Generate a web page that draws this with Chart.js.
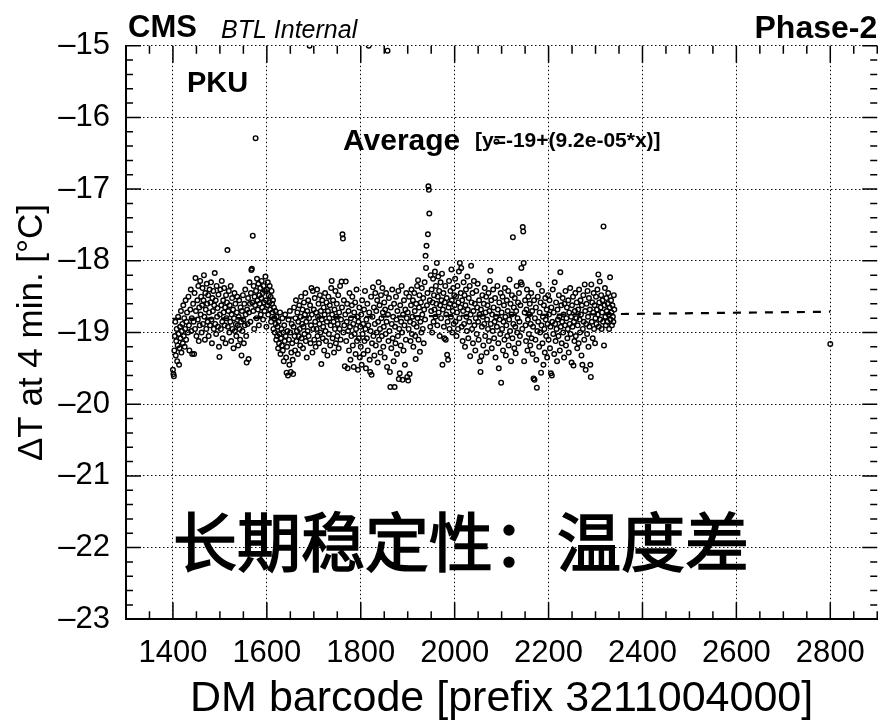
<!DOCTYPE html>
<html>
<head>
<meta charset="utf-8">
<title>BTL long-term stability: ΔT at 4 min.</title>
<script src="https://cdn.jsdelivr.net/npm/chart.js@4.4.0/dist/chart.umd.min.js"></script>
<style>
  html, body { margin: 0; padding: 0; background: #fff; }
</style>
</head>
<body>
<canvas id="chart" width="881" height="721"></canvas>
<script>
// ── Axes ──────────────────────────────────────────────────────────────────────
const xRange = [1300, 2900];
const yRange = [-23, -15];
const xTicks = [1400, 1600, 1800, 2000, 2200, 2400, 2600, 2800];
const yTicks = [-23, -22, -21, -20, -19, -18, -17, -16, -15];

// ── Measurements: [DM barcode, ΔT at 4 min.] ─────────────────────────────────
const dm1400 = [
  [1400,-19.52],[1401,-19.58],[1402,-19.61],[1403,-19.25],[1404,-19.05],[1405,-18.85],[1406,-19.32],[1407,-19.12],
  [1408,-18.95],[1409,-19.40],[1410,-19.18],[1411,-18.78],[1412,-19.02],[1413,-19.45],[1414,-19.22],[1415,-18.92],
  [1416,-19.08],[1417,-18.70],[1418,-19.28],[1419,-18.98],[1420,-18.88],[1421,-19.15],[1422,-18.62],[1423,-19.05],
  [1424,-18.80],[1425,-19.20],[1426,-18.95],[1427,-18.55],[1428,-19.10],[1429,-18.85],[1430,-18.72],[1432,-19.00],
  [1433,-18.50],[1434,-18.90],[1435,-19.25],[1437,-18.68],[1438,-18.40],[1439,-18.98],[1440,-18.80],[1441,-19.30],
  [1443,-18.60],[1444,-18.85],[1445,-19.30],[1446,-18.45],[1447,-18.95],[1448,-18.24],[1449,-18.70],[1450,-19.05],
  [1452,-18.55],[1453,-18.82],[1454,-18.35],[1455,-19.12],[1456,-18.65],[1457,-18.90],[1458,-18.28],[1459,-18.75],
  [1460,-18.50],[1461,-19.00],[1462,-18.62],[1463,-18.38],[1464,-18.88],[1465,-18.55],[1466,-18.20],[1467,-18.78],
  [1468,-19.10],[1469,-18.45],[1470,-18.68],[1471,-18.95],[1472,-18.32],[1473,-18.60],[1474,-18.85],[1475,-18.48],
  [1476,-19.05],[1477,-18.72],[1478,-18.40],[1479,-18.90],[1480,-18.58],[1481,-18.30],[1482,-18.82],[1483,-19.15],
  [1484,-18.52],[1485,-18.70],[1486,-18.42],[1487,-18.95],[1488,-18.62],[1489,-18.17],[1490,-18.88],[1491,-18.55],
  [1492,-19.02],[1493,-18.35],[1494,-18.78],[1495,-18.66],[1496,-18.92],[1497,-18.47],[1498,-19.20],[1499,-19.34]
];
const dm1500 = [
  [1500,-18.75],[1501,-18.40],[1502,-18.95],[1503,-18.62],[1504,-18.28],[1505,-18.85],[1506,-19.08],[1507,-18.55],
  [1508,-18.72],[1509,-18.38],[1510,-18.90],[1511,-18.65],[1512,-19.15],[1513,-18.48],[1514,-18.80],[1515,-18.58],
  [1516,-17.85],[1517,-18.92],[1518,-18.70],[1519,-18.42],[1520,-19.00],[1521,-18.62],[1522,-18.85],[1523,-18.35],
  [1524,-19.12],[1525,-18.75],[1526,-18.52],[1527,-18.95],[1528,-18.68],[1529,-19.22],[1530,-18.80],[1531,-18.45],
  [1532,-18.98],[1533,-18.60],[1534,-18.88],[1535,-19.05],[1536,-18.72],[1537,-18.50],[1538,-18.90],[1539,-19.18],
  [1540,-18.78],[1541,-18.55],[1542,-18.95],[1543,-19.10],[1544,-18.65],[1545,-18.85],[1546,-19.32],[1547,-18.70],
  [1548,-18.98],[1549,-18.48],[1550,-18.82],[1551,-19.15],[1552,-18.60],[1553,-18.90],[1554,-18.40],[1555,-18.75],
  [1556,-19.05],[1557,-19.42],[1558,-18.68],[1559,-18.88],[1560,-18.52],[1561,-19.37],[1562,-18.72],[1563,-18.30],
  [1564,-18.60],[1565,-18.85],[1566,-18.45],[1567,-18.13],[1568,-18.11],[1569,-18.58],[1570,-17.65],[1571,-18.70],
  [1572,-18.35],[1573,-18.95],[1574,-18.50],[1575,-18.62],[1576,-16.29],[1577,-18.42],[1578,-18.80],[1579,-18.25],
  [1580,-18.55],[1581,-18.68],[1582,-18.32],[1583,-18.90],[1584,-18.48],[1585,-18.60],[1586,-18.38],[1587,-18.75],
  [1588,-18.52],[1589,-18.28],[1590,-18.65],[1591,-18.45],[1592,-18.82],[1593,-18.35],[1594,-18.58],[1595,-18.70],
  [1596,-18.42],[1597,-18.22],[1598,-18.55],[1599,-18.92]
];
const dm1600 = [
  [1600,-18.40],[1601,-18.62],[1602,-18.30],[1603,-18.75],[1604,-18.48],[1605,-18.58],[1606,-18.35],[1607,-18.68],
  [1608,-18.50],[1609,-18.85],[1610,-18.42],[1611,-18.60],[1612,-18.72],[1613,-18.55],[1614,-18.95],[1615,-18.65],
  [1616,-18.80],[1617,-19.00],[1618,-18.70],[1619,-18.88],[1620,-19.10],[1621,-18.78],[1622,-19.05],[1623,-18.92],
  [1624,-19.22],[1625,-18.85],[1626,-19.15],[1627,-19.02],[1628,-18.72],[1629,-19.30],[1630,-19.08],[1631,-18.95],
  [1632,-19.18],[1633,-18.80],[1634,-19.25],[1635,-19.00],[1636,-19.40],[1637,-18.90],[1638,-19.12],[1639,-18.75],
  [1640,-19.05],[1641,-19.35],[1642,-19.56],[1643,-19.20],[1644,-18.98],[1645,-19.60],[1646,-18.82],[1647,-19.10],
  [1648,-19.45],[1649,-18.70],[1650,-19.00],[1651,-19.55],[1652,-19.28],[1653,-18.88],[1654,-19.15],[1655,-19.38],
  [1656,-19.58],[1657,-18.92],[1658,-18.65],[1659,-19.05],[1660,-19.25],[1661,-18.80],[1662,-18.55],[1663,-19.12],
  [1664,-18.98],[1665,-18.72],[1666,-19.30],[1667,-18.85],[1668,-19.05],[1669,-18.62],[1670,-18.95],[1671,-19.18],
  [1672,-18.78],[1673,-18.50],[1674,-19.08],[1675,-18.88],[1676,-18.68],[1677,-19.22],[1678,-18.92],[1679,-18.58],
  [1680,-19.02],[1681,-18.75],[1682,-18.45],[1683,-19.12],[1684,-18.85],[1685,-19.35],[1686,-18.70],[1687,-18.98],
  [1688,-18.55],[1689,-19.05],[1690,-18.80],[1691,-15.00],[1692,-18.62],[1693,-19.15],[1694,-18.90],[1695,-18.38],
  [1696,-18.75],[1697,-19.28],[1698,-18.42],[1699,-18.95]
];
const dm1700 = [
  [1700,-18.68],[1701,-19.10],[1702,-18.52],[1703,-18.85],[1704,-19.20],[1705,-18.72],[1706,-18.95],[1707,-18.40],
  [1708,-19.05],[1709,-18.78],[1710,-18.60],[1711,-19.15],[1712,-18.88],[1713,-18.48],[1714,-19.00],[1715,-18.70],
  [1716,-19.44],[1717,-18.82],[1718,-18.55],[1719,-19.08],[1720,-18.92],[1721,-18.65],[1722,-19.25],[1723,-18.75],
  [1724,-18.45],[1725,-18.98],[1726,-19.12],[1727,-18.58],[1728,-18.85],[1729,-19.32],[1730,-18.70],[1731,-18.50],
  [1732,-19.02],[1733,-18.80],[1734,-18.62],[1735,-19.18],[1736,-18.90],[1737,-18.38],[1738,-18.28],[1739,-18.75],
  [1740,-19.08],[1741,-18.55],[1742,-18.85],[1743,-19.28],[1744,-18.68],[1745,-18.95],[1746,-18.42],[1747,-19.15],
  [1748,-18.78],[1749,-18.60],[1750,-19.05],[1751,-18.88],[1752,-18.48],[1753,-19.22],[1754,-18.72],[1755,-18.95],
  [1756,-18.35],[1757,-19.10],[1758,-18.82],[1759,-18.29],[1760,-18.65],[1761,-17.63],[1762,-17.69],[1763,-19.00],
  [1764,-18.55],[1765,-18.90],[1766,-19.47],[1767,-18.75],[1768,-18.29],[1769,-19.12],[1770,-18.85],[1771,-18.60],
  [1772,-19.50],[1773,-18.98],[1774,-18.70],[1775,-19.25],[1776,-18.45],[1777,-18.92],[1778,-19.38],[1779,-18.80],
  [1780,-19.05],[1781,-18.62],[1782,-18.50],[1783,-19.18],[1784,-18.88],[1785,-19.48],[1786,-18.72],[1787,-19.02],
  [1788,-18.58],[1789,-19.30],[1790,-18.95],[1791,-18.40],[1792,-19.12],[1793,-18.78],[1794,-19.52],[1795,-18.85],
  [1796,-19.08],[1797,-18.65],[1798,-19.35],[1799,-18.92]
];
const dm1800 = [
  [1800,-19.20],[1801,-18.75],[1802,-19.45],[1803,-18.55],[1804,-19.02],[1805,-18.88],[1806,-19.30],[1807,-18.68],
  [1808,-19.12],[1809,-18.42],[1810,-18.95],[1811,-19.50],[1812,-18.82],[1813,-19.08],[1814,-18.60],[1815,-19.25],
  [1816,-18.90],[1817,-15.00],[1818,-18.72],[1819,-19.38],[1820,-19.55],[1821,-18.98],[1822,-18.50],[1823,-19.59],
  [1824,-19.15],[1825,-18.78],[1826,-18.37],[1827,-19.05],[1828,-18.65],[1829,-19.32],[1830,-18.88],[1831,-18.45],
  [1832,-19.18],[1833,-18.70],[1834,-19.00],[1835,-18.55],[1836,-19.42],[1837,-18.85],[1838,-18.30],[1839,-19.10],
  [1840,-18.62],[1841,-18.95],[1842,-19.28],[1843,-18.48],[1844,-18.80],[1845,-19.05],[1846,-18.38],[1847,-18.72],
  [1848,-19.20],[1849,-18.92],[1850,-18.58],[1851,-19.35],[1852,-18.68],[1853,-19.02],[1854,-18.45],[1855,-18.85],
  [1856,-19.48],[1857,-15.07],[1858,-18.75],[1859,-19.12],[1860,-18.52],[1861,-18.98],[1862,-19.55],[1863,-19.76],
  [1864,-18.65],[1865,-19.22],[1866,-18.88],[1867,-18.40],[1868,-19.08],[1869,-18.78],[1870,-19.40],[1871,-18.60],
  [1872,-19.76],[1873,-18.92],[1874,-19.15],[1875,-18.50],[1876,-18.82],[1877,-19.30],[1878,-18.70],[1879,-19.05],
  [1880,-18.42],[1881,-19.65],[1882,-18.95],[1883,-19.57],[1884,-18.62],[1885,-19.18],[1886,-18.85],[1887,-18.35],
  [1888,-19.00],[1889,-19.66],[1890,-18.75],[1891,-19.25],[1892,-18.55],[1893,-18.90],[1894,-19.45],[1895,-18.68],
  [1896,-19.10],[1897,-18.45],[1898,-18.80],[1899,-19.62]
];
const dm1900 = [
  [1900,-18.72],[1901,-19.67],[1902,-18.95],[1903,-18.50],[1904,-19.58],[1905,-18.85],[1906,-19.12],[1907,-18.62],
  [1908,-18.40],[1909,-19.02],[1910,-18.78],[1911,-18.55],[1912,-19.20],[1913,-18.88],[1914,-18.45],[1915,-18.70],
  [1916,-19.05],[1917,-19.37],[1918,-18.60],[1919,-18.92],[1920,-18.35],[1921,-18.80],[1922,-18.27],[1923,-19.10],
  [1924,-18.65],[1925,-18.48],[1926,-19.27],[1927,-18.85],[1928,-18.58],[1929,-19.00],[1930,-18.38],[1931,-18.75],
  [1932,-18.95],[1933,-18.52],[1934,-19.15],[1935,-18.68],[1936,-18.30],[1937,-18.82],[1938,-17.93],[1939,-18.10],
  [1940,-17.79],[1941,-18.62],[1942,-18.45],[1943,-17.63],[1944,-16.96],[1945,-17.01],[1946,-17.34],[1947,-18.55],
  [1948,-18.92],[1949,-18.20],[1950,-18.70],[1951,-18.40],[1952,-19.00],[1953,-18.58],[1954,-18.25],[1955,-18.85],
  [1956,-18.48],[1957,-18.68],[1958,-18.15],[1959,-18.78],[1960,-18.35],[1961,-18.60],[1962,-18.03],[1963,-18.90],
  [1964,-18.50],[1965,-18.22],[1966,-18.72],[1967,-18.42],[1968,-19.05],[1969,-18.62],[1970,-18.30],[1971,-18.80],
  [1972,-18.55],[1973,-18.18],[1974,-19.45],[1975,-18.68],[1976,-18.45],[1977,-18.92],[1978,-19.08],[1979,-18.58],
  [1980,-18.35],[1981,-19.10],[1982,-18.75],[1983,-18.52],[1984,-19.31],[1985,-18.85],[1986,-19.38],[1987,-18.65],
  [1988,-18.28],[1989,-18.95],[1990,-18.60],[1991,-18.42],[1992,-18.78],[1993,-18.12],[1994,-18.55],[1995,-19.00],
  [1996,-18.70],[1997,-18.38],[1998,-18.88],[1999,-18.48]
];
const dm2000 = [
  [2000,-18.62],[2001,-18.25],[2002,-18.85],[2003,-18.50],[2004,-19.05],[2005,-18.72],[2006,-18.35],[2007,-18.95],
  [2008,-18.58],[2009,-18.15],[2010,-18.80],[2011,-18.03],[2012,-18.65],[2013,-18.45],[2014,-18.10],[2015,-18.92],
  [2016,-18.55],[2017,-19.12],[2018,-18.70],[2019,-18.30],[2020,-18.88],[2021,-18.48],[2022,-19.20],[2023,-18.62],
  [2024,-18.40],[2025,-18.78],[2026,-18.98],[2027,-18.22],[2028,-18.68],[2029,-19.08],[2030,-18.52],[2031,-18.85],
  [2032,-18.35],[2033,-19.33],[2034,-18.75],[2035,-18.07],[2036,-18.58],[2037,-18.95],[2038,-18.45],[2039,-19.15],
  [2040,-18.70],[2041,-18.28],[2042,-18.90],[2043,-18.60],[2044,-19.25],[2045,-18.80],[2046,-18.42],[2047,-19.02],
  [2048,-18.65],[2049,-18.32],[2050,-18.85],[2051,-19.10],[2052,-18.55],[2053,-18.75],[2054,-19.40],[2055,-19.55],
  [2056,-18.68],[2057,-19.33],[2058,-18.92],[2059,-18.48],[2060,-18.78],[2061,-19.18],[2062,-18.60],[2063,-18.88],
  [2064,-18.38],[2065,-19.05],[2066,-18.72],[2067,-18.50],[2068,-19.28],[2069,-18.82],[2070,-18.62],[2071,-18.95],
  [2072,-18.45],[2073,-19.12],[2074,-18.70],[2075,-18.28],[2076,-18.14],[2077,-18.88],[2078,-18.55],[2079,-19.22],
  [2080,-18.75],[2081,-18.98],[2082,-18.40],[2083,-18.65],[2084,-19.08],[2085,-18.85],[2086,-18.52],[2087,-19.35],
  [2088,-18.78],[2089,-16.34],[2090,-18.92],[2091,-18.35],[2092,-18.68],[2093,-19.15],[2094,-19.50],[2095,-18.58],
  [2096,-18.82],[2097,-19.02],[2098,-18.45],[2099,-19.70]
];
const dm2100 = [
  [2100,-18.72],[2101,-18.95],[2102,-18.50],[2103,-19.25],[2104,-18.85],[2105,-18.62],[2106,-19.10],[2107,-18.38],
  [2108,-18.78],[2109,-19.32],[2110,-18.90],[2111,-18.55],[2112,-19.05],[2113,-18.70],[2114,-18.42],[2115,-19.18],
  [2116,-18.82],[2117,-18.26],[2118,-18.98],[2119,-18.60],[2120,-19.40],[2121,-18.75],[2122,-18.48],[2123,-19.08],
  [2124,-17.67],[2125,-18.88],[2126,-18.65],[2127,-19.22],[2128,-18.52],[2129,-18.92],[2130,-19.29],[2131,-18.70],
  [2132,-18.35],[2133,-19.00],[2134,-18.80],[2135,-18.58],[2136,-19.15],[2137,-18.45],[2138,-18.85],[2139,-19.05],
  [2140,-18.62],[2141,-18.30],[2142,-18.10],[2143,-18.33],[2144,-18.95],[2145,-17.53],[2146,-17.59],[2147,-18.03],
  [2148,-19.40],[2149,-18.72],[2150,-18.55],[2151,-18.90],[2152,-19.12],[2153,-18.68],[2154,-18.40],[2155,-19.25],
  [2156,-18.82],[2157,-18.50],[2158,-19.02],[2159,-18.75],[2160,-18.60],[2161,-19.18],[2162,-18.88],[2163,-18.45],
  [2164,-19.08],[2165,-18.70],[2166,-19.30],[2167,-18.92],[2168,-19.64],[2169,-18.55],[2170,-19.66],[2171,-18.80],
  [2172,-19.10],[2173,-18.65],[2174,-19.38],[2175,-19.77],[2176,-18.98],[2177,-18.50],[2178,-18.85],[2179,-18.33],
  [2180,-19.20],[2181,-18.72],[2182,-19.00],[2183,-18.58],[2184,-19.56],[2185,-18.90],[2186,-18.42],[2187,-19.15],
  [2188,-18.78],[2189,-19.45],[2190,-18.62],[2191,-18.95],[2192,-19.28],[2193,-18.52],[2194,-18.82],[2195,-19.05],
  [2196,-18.68],[2197,-19.35],[2198,-18.88],[2199,-18.48]
];
const dm2200 = [
  [2200,-19.10],[2201,-18.75],[2202,-18.55],[2203,-19.22],[2204,-18.92],[2205,-19.57],[2206,-18.65],[2207,-19.60],
  [2208,-18.85],[2209,-18.40],[2210,-19.02],[2211,-18.72],[2212,-19.30],[2213,-18.30],[2214,-18.88],[2215,-19.12],
  [2216,-18.58],[2217,-18.95],[2218,-19.40],[2219,-18.68],[2220,-18.82],[2221,-19.05],[2222,-18.48],[2223,-18.78],
  [2224,-19.25],[2225,-18.16],[2226,-18.92],[2227,-18.62],[2228,-19.15],[2229,-18.85],[2230,-18.52],[2231,-19.00],
  [2232,-18.75],[2233,-19.35],[2234,-18.60],[2235,-18.90],[2236,-18.42],[2237,-19.18],[2238,-18.80],[2239,-18.65],
  [2240,-19.08],[2241,-18.95],[2242,-18.55],[2243,-19.28],[2244,-18.72],[2245,-18.88],[2246,-18.38],[2247,-19.02],
  [2248,-18.78],[2249,-19.42],[2250,-18.62],[2251,-18.92],[2252,-18.50],[2253,-19.46],[2254,-18.85],[2255,-19.12],
  [2256,-18.70],[2257,-18.45],[2258,-19.05],[2259,-18.80],[2260,-18.58],[2261,-19.22],[2262,-18.90],[2263,-18.68],
  [2264,-19.15],[2265,-18.40],[2266,-18.82],[2267,-19.00],[2268,-18.55],[2269,-18.75],[2270,-19.32],[2271,-18.62],
  [2272,-19.45],[2273,-18.95],[2274,-18.48],[2275,-18.85],[2276,-19.10],[2277,-18.33],[2278,-18.70],[2279,-19.52],
  [2280,-18.88],[2281,-18.60],[2282,-19.02],[2283,-18.42],[2284,-18.78],[2285,-19.20],[2286,-18.52],[2287,-18.92],
  [2288,-18.68],[2289,-19.45],[2290,-19.62],[2291,-18.33],[2292,-18.85],[2293,-18.58],[2294,-19.08],[2295,-18.72],
  [2296,-18.45],[2297,-18.95],[2298,-18.62],[2299,-19.15]
];
const dm2300 = [
  [2300,-18.80],[2301,-18.50],[2302,-18.88],[2303,-18.68],[2304,-18.40],[2305,-18.75],[2306,-18.19],[2307,-18.92],
  [2308,-18.58],[2309,-18.29],[2310,-18.82],[2311,-18.65],[2312,-18.48],[2313,-18.95],[2314,-18.72],[2315,-18.55],
  [2316,-18.85],[2317,-17.52],[2318,-19.18],[2319,-18.62],[2320,-18.38],[2321,-18.78],[2322,-18.90],[2323,-18.52],
  [2324,-18.70],[2325,-18.85],[2326,-18.60],[2327,-18.45],[2328,-18.75],[2329,-18.95],[2330,-18.65],[2331,-18.23],
  [2332,-18.82],[2333,-18.55],[2334,-18.72],[2335,-18.90],[2336,-18.62],[2337,-18.78],[2338,-18.85],[2339,-18.48],
  [2340,-18.68]
];
const dmLate = [[2800,-19.16]];

// ── Average fit (dashed) ──────────────────────────────────────────────────────
const fitX = [1400, 2800];
const fitY = [-18.81, -18.71];

// ── Chart ─────────────────────────────────────────────────────────────────────
const FONT = '"Liberation Sans", Arial, Helvetica, sans-serif';
Chart.defaults.font.family = FONT;
Chart.defaults.color = '#000';

const points = [...dm1400, ...dm1500, ...dm1600, ...dm1700, ...dm1800, ...dm1900,
                ...dm2000, ...dm2100, ...dm2200, ...dm2300, ...dmLate].map(([x, y]) => ({ x, y }));
const fitLine = fitX.map((x, i) => ({ x, y: fitY[i] }));

const rootMinus = v => (v < 0 ? '\u2013' + Math.abs(v) : String(v));

// ROOT style: inward ticks on all four sides + the labels
const rootDecor = {
  id: 'rootDecor',
  afterDraw(chart) {
    const { ctx, chartArea: a, scales: { x, y } } = chart;
    ctx.save();
    ctx.strokeStyle = '#000';
    ctx.lineWidth = 1.5;
    ctx.beginPath();
    for (let v = xRange[0]; v <= xRange[1]; v += 50) {
      const px = x.getPixelForValue(v);
      const len = xTicks.includes(v) ? 17 : 8;
      ctx.moveTo(px, a.bottom); ctx.lineTo(px, a.bottom - len);
      ctx.moveTo(px, a.top);    ctx.lineTo(px, a.top + len);
    }
    for (let i = 0; i <= 40; i++) {
      const py = y.getPixelForValue(yRange[0] + i * 0.2);
      const len = i % 5 === 0 ? 15 : 7;
      ctx.moveTo(a.left, py);  ctx.lineTo(a.left + len, py);
      ctx.moveTo(a.right, py); ctx.lineTo(a.right - len, py);
    }
    ctx.stroke();

    ctx.fillStyle = '#000';
    ctx.textBaseline = 'alphabetic';
    ctx.textAlign = 'left';
    ctx.font = `bold 31px ${FONT}`;
    ctx.fillText('CMS', a.left + 2, 37);
    ctx.font = `italic 25px ${FONT}`;
    ctx.fillText('BTL Internal', 221, 38);
    ctx.textAlign = 'right';
    ctx.font = `bold 32px ${FONT}`;
    ctx.fillText('Phase-2', a.right, 38);
    ctx.textAlign = 'left';
    ctx.font = `bold 29px ${FONT}`;
    ctx.fillText('PKU', 187, 92);
    ctx.font = `bold 30px ${FONT}`;
    ctx.fillText('Average', 343, 150);
    ctx.font = `bold 21px ${FONT}`;
    ctx.fillText('[y=-19+(9.2e-05*x)]', 475, 147);
    ctx.font = `64px "Noto Sans CJK SC", sans-serif`;
    ctx.lineWidth = 1.6;
    ctx.strokeText('长期稳定性：温度差', 173, 566);
    ctx.fillText('长期稳定性：温度差', 173, 566);
    ctx.restore();
  }
};

const gridStyle = { color: '#111', lineWidth: 1, drawTicks: false };
const frameStyle = { display: true, color: '#000', width: 2, dash: [1.5, 2.5] };

new Chart(document.getElementById('chart'), {
  type: 'scatter',
  data: {
    datasets: [
      {
        label: 'ΔT at 4 min.',
        data: points,
        showLine: false,
        pointRadius: 2.3,
        pointHoverRadius: 2.3,
        pointBorderWidth: 1.4,
        borderColor: '#000',
        backgroundColor: 'rgba(0,0,0,0)',
      },
      {
        label: 'Average',
        data: fitLine,
        showLine: true,
        pointRadius: 0,
        borderColor: '#000',
        borderWidth: 2.2,
        borderDash: [8, 8],
      }
    ]
  },
  options: {
    responsive: false,
    animation: false,
    events: [],
    layout: { padding: { left: 0, top: 45.7, right: 3.3, bottom: 0 } },
    plugins: { legend: { display: false }, tooltip: { enabled: false } },
    scales: {
      x: {
        type: 'linear', min: xRange[0], max: xRange[1],
        afterBuildTicks: s => { s.ticks = xTicks.map(value => ({ value })); },
        afterFit: s => { s.height = 101.7; },
        grid: gridStyle,
        border: frameStyle,
        ticks: { padding: 16, autoSkip: false, maxRotation: 0, font: { size: 31 }, callback: v => String(v) },
        title: {
          display: true, text: 'DM barcode [prefix 3211004000]',
          font: { size: 43, lineHeight: 1 }, padding: { top: 0, bottom: 0 }
        }
      },
      y: {
        type: 'linear', min: yRange[0], max: yRange[1],
        afterBuildTicks: s => { s.ticks = yTicks.map(value => ({ value })); },
        afterFit: s => { s.width = 126; },
        grid: gridStyle,
        border: frameStyle,
        ticks: { padding: 16, autoSkip: false, font: { size: 31 }, callback: rootMinus },
        title: {
          display: true, text: 'ΔT at 4 min. [°C]',
          font: { size: 35, lineHeight: 1 }, padding: { top: 15, bottom: 0 }
        }
      }
    }
  },
  plugins: [rootDecor]
});
</script>
</body>
</html>
